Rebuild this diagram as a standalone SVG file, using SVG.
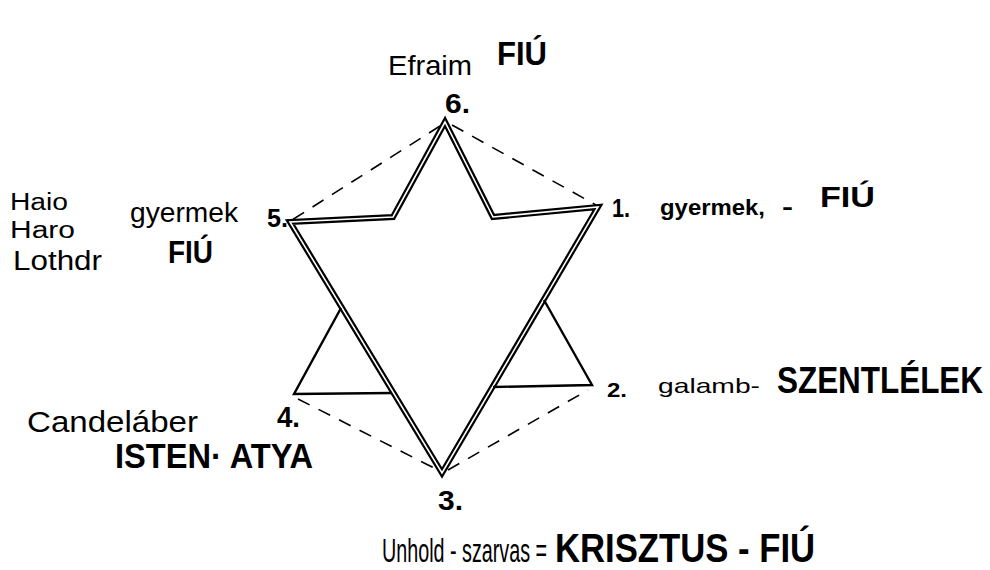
<svg xmlns="http://www.w3.org/2000/svg" width="990" height="570" viewBox="0 0 990 570">
<style>
.hand{font-family:"Liberation Sans","DejaVu Sans",sans-serif;font-weight:normal;fill:#000;}
.cap{font-family:"Liberation Sans","DejaVu Sans",sans-serif;font-weight:bold;fill:#000;}
.num{font-family:"Liberation Sans","DejaVu Sans",sans-serif;font-weight:bold;fill:#000;}
.dash{fill:none;stroke:#000;stroke-width:1.6;stroke-dasharray:13 10;}
.outer{fill:none;stroke:#000;stroke-width:6;stroke-linejoin:miter;}
.inner{fill:none;stroke:#fff;stroke-width:1.6;stroke-linejoin:miter;}
.single{fill:none;stroke:#000;stroke-width:2.4;stroke-linejoin:miter;}
</style>
<rect width="990" height="570" fill="#fff"/>
<g id="connectors">
<line class="dash" x1="440" y1="126" x2="292" y2="220"/>
<line class="dash" x1="452" y1="125" x2="596" y2="205"/>
<line class="dash" x1="298" y1="399" x2="438" y2="470"/>
<line class="dash" x1="448" y1="470" x2="588" y2="390"/>
</g>
<g id="star">
<path class="outer" d="M445,122 L393,217 L290,222 L442,473 L598,207 L493,217 Z"/>
<path class="inner" d="M445,122 L393,217 L290,222 L442,473 L598,207 L493,217 Z"/>
<polyline class="single" points="341,308 294,394 392,393"/>
<polyline class="single" points="493,387 592,385 544,300"/>
</g>
<g id="node6">
<text class="hand" x="388" y="75" font-size="28" textLength="84" lengthAdjust="spacingAndGlyphs">Efraim</text>
<text class="cap" x="497" y="65" font-size="34" textLength="50" lengthAdjust="spacingAndGlyphs">FIÚ</text>
<text class="num" x="445" y="113" font-size="27" textLength="25" lengthAdjust="spacingAndGlyphs">6.</text>
</g>
<g id="node5">
<text class="hand" x="10" y="210" font-size="23" textLength="58" lengthAdjust="spacingAndGlyphs">Haio</text>
<text class="hand" x="10" y="238" font-size="23" textLength="65" lengthAdjust="spacingAndGlyphs">Haro</text>
<text class="hand" x="13" y="270" font-size="27" textLength="89" lengthAdjust="spacingAndGlyphs">Lothdr</text>
<text class="hand" x="130" y="222" font-size="27" textLength="108" lengthAdjust="spacingAndGlyphs">gyermek</text>
<text class="cap" x="168" y="263" font-size="32" textLength="45" lengthAdjust="spacingAndGlyphs">FIÚ</text>
<text class="num" x="267" y="227" font-size="26" textLength="21" lengthAdjust="spacingAndGlyphs">5.</text>
</g>
<g id="node1">
<text class="num" x="612" y="217" font-size="26" textLength="18" lengthAdjust="spacingAndGlyphs">1.</text>
<text class="cap" x="660" y="215" font-size="22" textLength="105" lengthAdjust="spacingAndGlyphs">gyermek,</text>
<text class="cap" x="782" y="214" font-size="22" textLength="11" lengthAdjust="spacingAndGlyphs">-</text>
<text class="cap" x="820" y="207" font-size="30" textLength="55" lengthAdjust="spacingAndGlyphs">FIÚ</text>
</g>
<g id="node2">
<text class="num" x="607" y="397" font-size="21" textLength="20" lengthAdjust="spacingAndGlyphs">2.</text>
<text class="hand" x="658" y="393" font-size="21" textLength="102" lengthAdjust="spacingAndGlyphs">galamb-</text>
<text class="cap" transform="translate(777,393) scale(0.873,1)" x="0" y="0" font-size="36" textLength="236" lengthAdjust="spacingAndGlyphs">SZENTLÉLEK</text>
</g>
<g id="node4">
<text class="hand" x="27" y="432" font-size="30" textLength="171" lengthAdjust="spacingAndGlyphs">Candeláber</text>
<text class="num" x="277" y="427" font-size="30" textLength="23" lengthAdjust="spacingAndGlyphs">4.</text>
<text class="cap" transform="translate(115,468) scale(0.876,1)" x="0" y="0" font-size="36" textLength="226" lengthAdjust="spacingAndGlyphs">ISTEN· ATYA</text>
</g>
<g id="node3">
<text class="num" x="438" y="510" font-size="28" textLength="25" lengthAdjust="spacingAndGlyphs">3.</text>
<text class="hand" transform="translate(382,562) scale(0.55,1)" x="0" y="0" font-size="34" textLength="300" lengthAdjust="spacingAndGlyphs">Unhold - szarvas =</text>
<text class="cap" transform="translate(555,562) scale(0.867,1)" x="0" y="0" font-size="40" textLength="300" lengthAdjust="spacingAndGlyphs">KRISZTUS - FIÚ</text>
</g>
</svg>
